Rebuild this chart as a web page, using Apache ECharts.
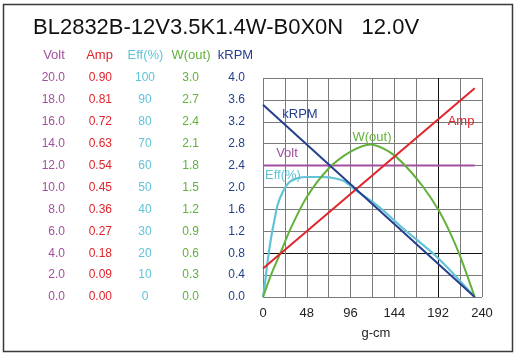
<!DOCTYPE html>
<html>
<head>
<meta charset="utf-8">
<script src="https://cdn.jsdelivr.net/npm/echarts@6/dist/echarts.min.js"></script>
<style>
html,body{margin:0;padding:0;background:#fff;}
#chart{width:516px;height:355px;}
</style>
</head>
<body>
<div id="chart"></div>
<script>
// ---- data (x = torque in g-cm) ----
const titleText = 'BL2832B-12V3.5K1.4W-B0X0N   12.0V';
const xTicks = [0, 48, 96, 144, 192, 240];

const voltTorque = [0, 232];
const voltValues = [12.0, 12.0];

const ampTorque = [0, 232];
const ampValues = [0.117, 0.858];

const rpmTorque = [0, 232];
const rpmValues = [3.51, 0];

const effTorque = [0, 1.5, 5, 9, 12.5, 16, 21.6, 29, 38, 49, 64, 73, 88, 102, 117, 131.5, 153, 192, 232];
const effValues = [0, 4, 16, 27.4, 35, 42, 48, 52.5, 54.3, 54.8, 54.8, 54.6, 53.1, 48.7, 44.3, 39.6, 31.5, 17.7, 0];

const wTorque = [0, 10, 20, 30, 48, 72, 96, 118, 131, 144, 161, 176, 192, 204, 216, 232];
const wValues = [0, 0.34, 0.63, 0.93, 1.37, 1.76, 1.99, 2.09, 2.04, 1.94, 1.73, 1.5, 1.2, 0.91, 0.56, 0];

// ---- styling ----
const FONT = 'Liberation Sans, Arial, Helvetica, sans-serif';
const C = {
  volt: '#a24f9e',
  amp: '#e0242b',
  eff: '#62c3d6',
  w: '#62b13a',
  rpm: '#243f8d'
};
const pairs = (xs, ys) => xs.map((x, i) => [x, ys[i]]);

function yAx(min, max, interval, color, offset, digits, align) {
  return {
    type: 'value', position: 'left', min: min, max: max, interval: interval,
    offset: offset,
    axisLine: {show: false}, axisTick: {show: false}, splitLine: {show: false},
    axisLabel: {
      color: color, fontSize: 12, fontFamily: FONT, margin: 8,
      align: align || 'right',
      formatter: v => Number(v).toFixed(digits)
    }
  };
}

const gridGray = '#7a7a7a';
const vColors = [gridGray, gridGray, gridGray, gridGray, gridGray, gridGray, gridGray, gridGray, '#111', gridGray, gridGray];
const hColors = [gridGray, gridGray, '#111', gridGray, gridGray, gridGray, gridGray, gridGray, gridGray, gridGray, gridGray];

const voltAxis = yAx(0, 20, 2, C.volt, 190, 1);
voltAxis.splitLine = {show: true, lineStyle: {color: hColors, width: 1}};

const headers = [
  {t: 'Volt', x: 54, c: C.volt},
  {t: 'Amp', x: 99.5, c: C.amp},
  {t: 'Eff(%)', x: 145.5, c: C.eff},
  {t: 'W(out)', x: 191, c: C.w},
  {t: 'kRPM', x: 235.5, c: C.rpm}
];
const inLabels = [
  {t: 'kRPM', x: 300, y: 114, c: C.rpm},
  {t: 'Amp', x: 461, y: 121, c: C.amp},
  {t: 'W(out)', x: 372, y: 137, c: C.w},
  {t: 'Volt', x: 287, y: 153, c: C.volt},
  {t: 'Eff(%)', x: 283, y: 175, c: C.eff}
];

const graphics = [
  {type: 'rect', shape: {x: 3.5, y: 4.5, width: 509, height: 347},
   style: {fill: 'none', stroke: '#3a3a3a', lineWidth: 1.5}, z: 0}
];
headers.forEach(h => graphics.push({
  type: 'text', x: h.x, y: 55,
  style: {text: h.t, fill: h.c, font: '13px ' + FONT, textAlign: 'center', textVerticalAlign: 'middle'}
}));
inLabels.forEach(h => graphics.push({
  type: 'text', x: h.x, y: h.y, z: 100,
  style: {text: h.t, fill: h.c, font: '13px ' + FONT, textAlign: 'center', textVerticalAlign: 'middle'}
}));

const chart = echarts.init(document.getElementById('chart'), null, {renderer: 'canvas'});
chart.setOption({
  animation: false,
  backgroundColor: '#fff',
  title: {
    text: titleText, left: 28, top: 12,
    textStyle: {fontSize: 22, fontWeight: 'normal', color: '#111', fontFamily: FONT}
  },
  grid: {left: 263, right: 34, top: 78, bottom: 58, containLabel: false},
  xAxis: {
    type: 'value', min: 0, max: 240, interval: 24,
    name: 'g-cm', nameLocation: 'middle', nameGap: 30,
    nameTextStyle: {fontSize: 13, color: '#222', fontFamily: FONT, padding: [0, 0, 0, 7]},
    axisLine: {show: false}, axisTick: {show: false},
    splitLine: {show: true, lineStyle: {color: vColors, width: 1}},
    axisLabel: {
      fontSize: 13, color: '#222', fontFamily: FONT, margin: 10,
      formatter: v => (xTicks.indexOf(v) >= 0 ? String(v) : '')
    }
  },
  yAxis: [
    voltAxis,
    yAx(0, 0.9, 0.09, C.amp, 143, 2),
    yAx(0, 100, 10, C.eff, 110, 0, 'center'),
    yAx(0, 3, 0.3, C.w, 56, 1),
    yAx(0, 4, 0.4, C.rpm, 10, 1)
  ],
  graphic: graphics,
  series: [
    {name: 'Volt', type: 'line', yAxisIndex: 0, data: pairs(voltTorque, voltValues),
     showSymbol: false, lineStyle: {color: C.volt, width: 2}, z: 3},
    {name: 'Amp', type: 'line', yAxisIndex: 1, data: pairs(ampTorque, ampValues),
     showSymbol: false, lineStyle: {color: C.amp, width: 2}, z: 4},
    {name: 'Eff(%)', type: 'line', yAxisIndex: 2, data: pairs(effTorque, effValues),
     showSymbol: false, smooth: 0.3, lineStyle: {color: C.eff, width: 2.2}, z: 3},
    {name: 'W(out)', type: 'line', yAxisIndex: 3, data: pairs(wTorque, wValues),
     showSymbol: false, smooth: 0.3, lineStyle: {color: C.w, width: 2}, z: 3},
    {name: 'kRPM', type: 'line', yAxisIndex: 4, data: pairs(rpmTorque, rpmValues),
     showSymbol: false, lineStyle: {color: C.rpm, width: 2}, z: 4}
  ]
});
</script>
</body>
</html>
